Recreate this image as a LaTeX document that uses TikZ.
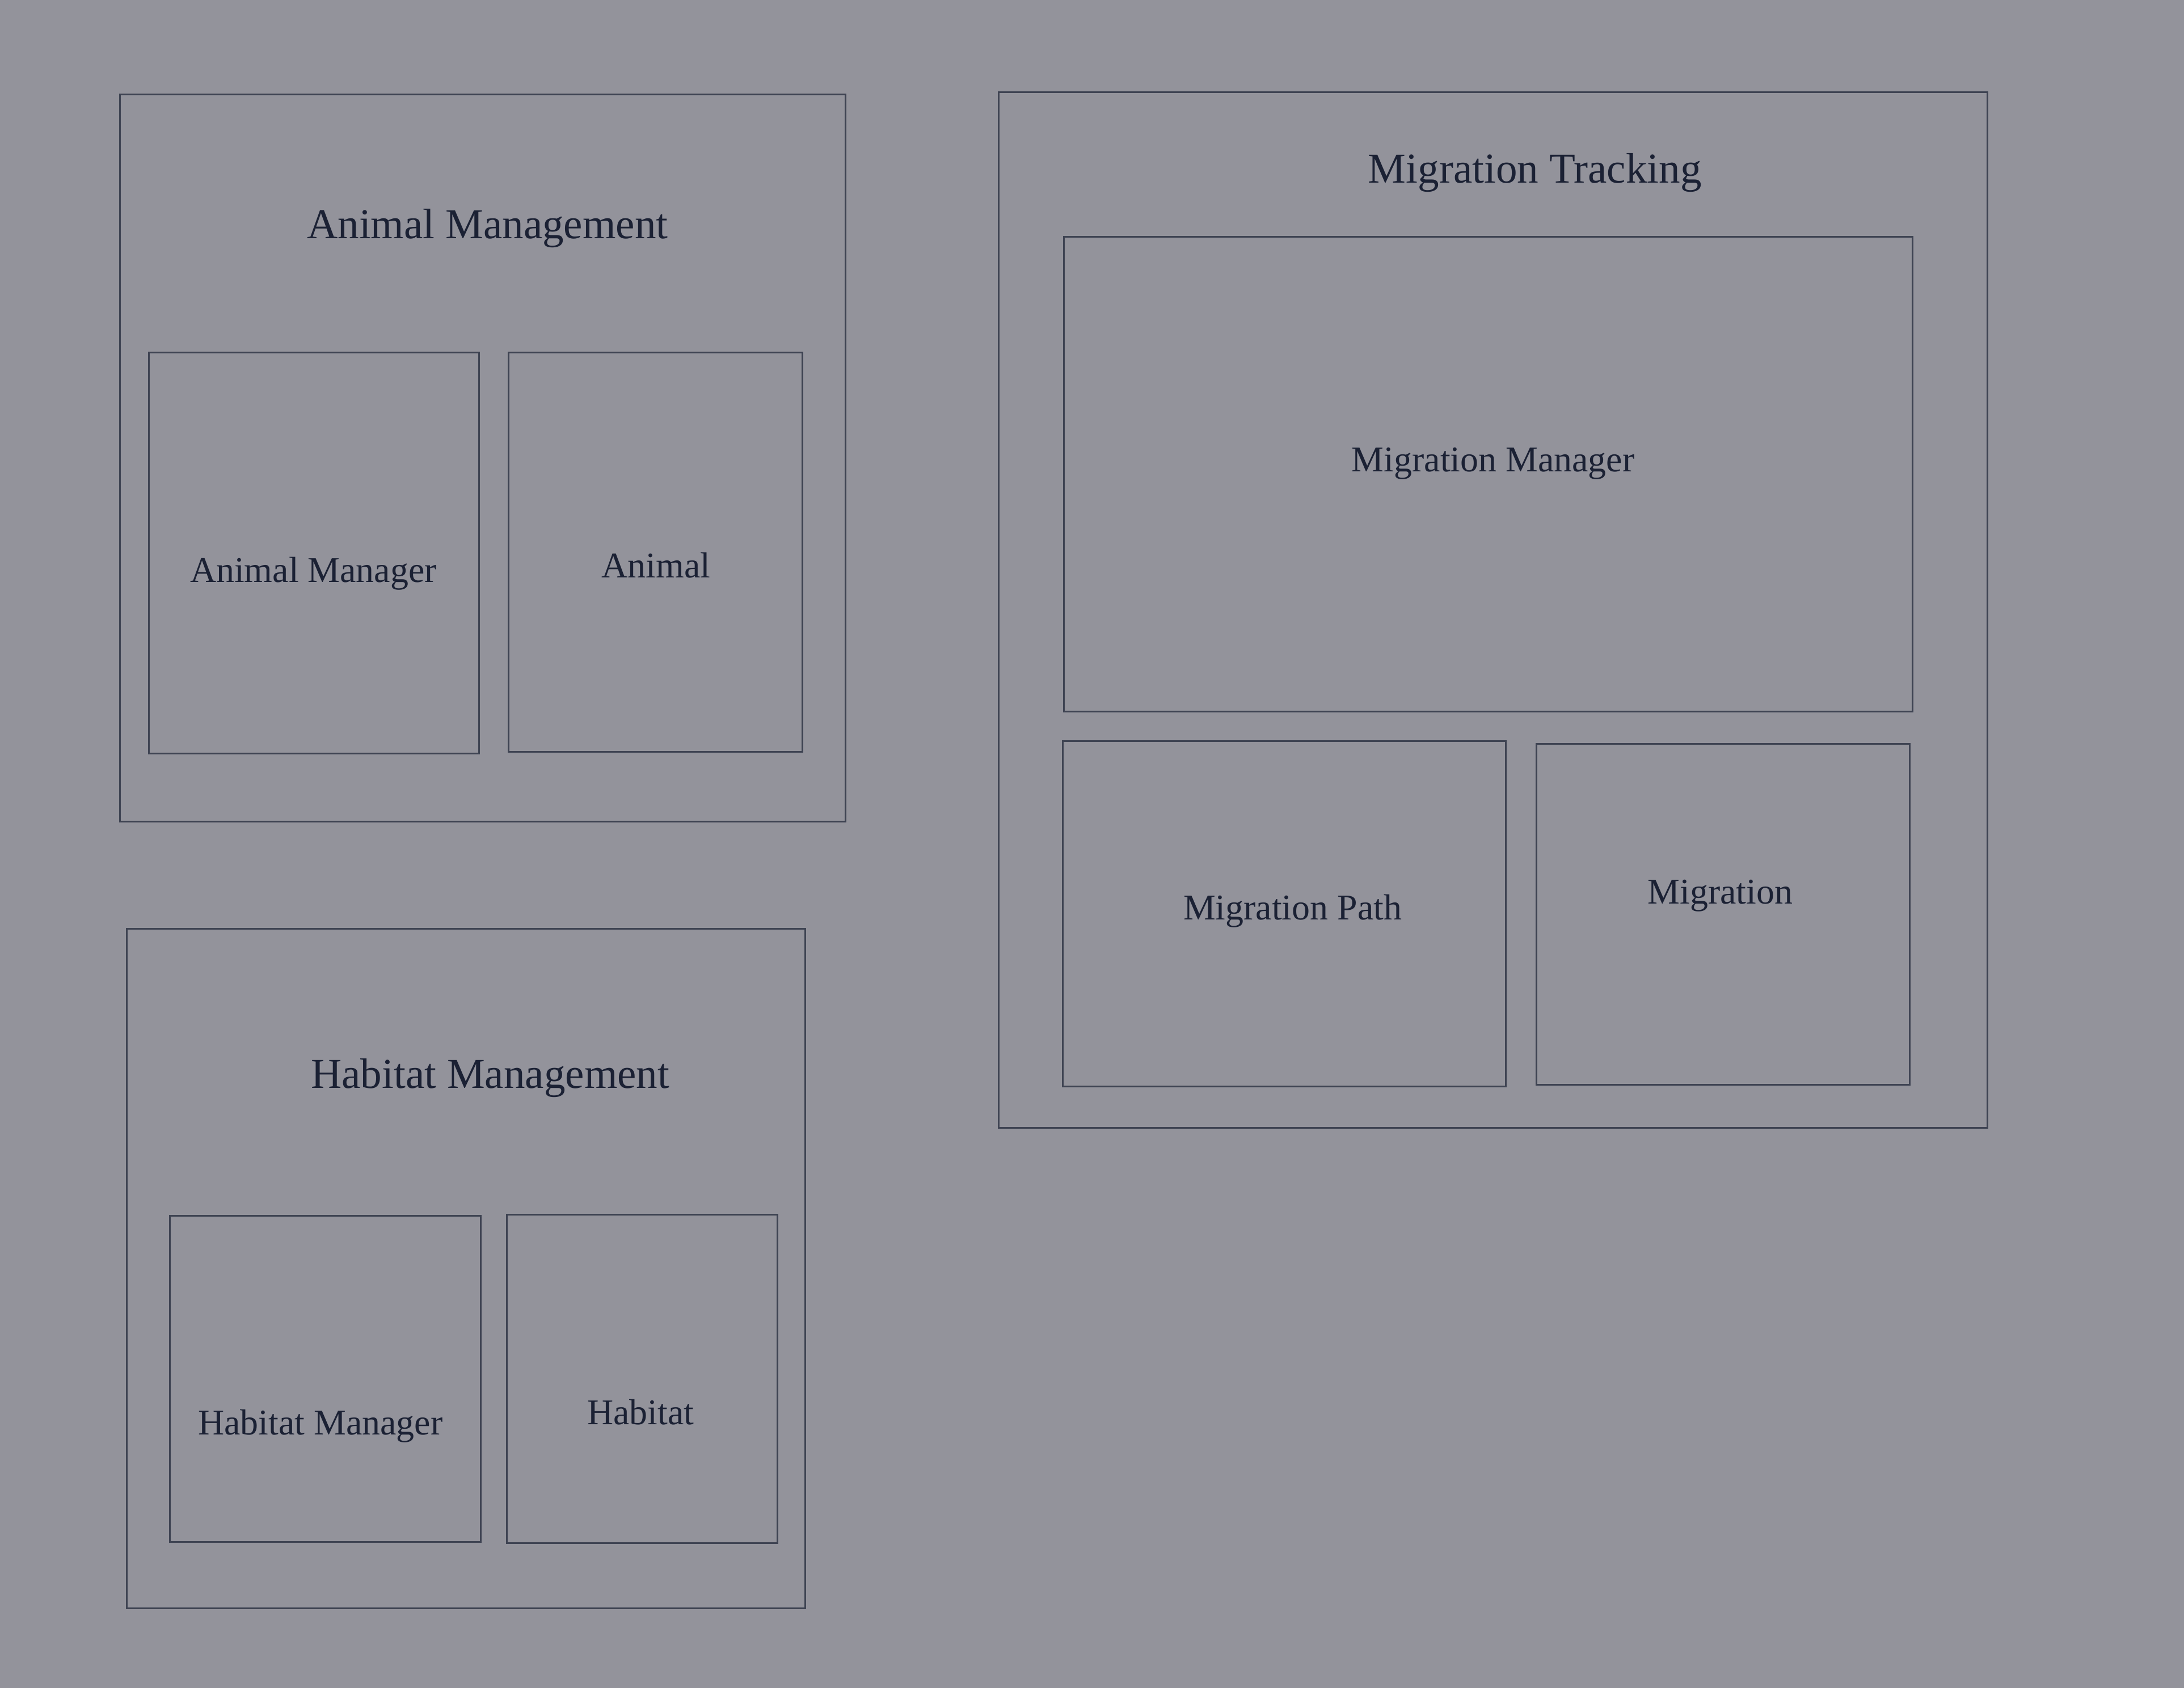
\documentclass[tikz,border=0pt]{standalone}
\usepackage{fontspec}
\setmainfont{Liberation Serif}
\usepackage{tikz}

\definecolor{bgcol}{HTML}{93939B}
\definecolor{linecol}{HTML}{3E4352}
\definecolor{textcol}{HTML}{1B2134}

\tikzset{
  frame/.style={draw=linecol, line width=0.35pt},
  title/.style={text=textcol, font=\fontsize{8.7}{10}\selectfont},
  label/.style={text=textcol, font=\fontsize{7.4}{9}\selectfont}
}

\begin{document}
\begin{tikzpicture}[x=0.01cm, y=-0.01cm]
  \fill[bgcol] (0,0) rectangle (1568,1212);
  \useasboundingbox (0,0) rectangle (1568,1212);
  % Animal Management
  \draw[frame] (86,68) rectangle (607,590);
  \node[title] (animalmgmt) at (350,164) {Animal Management};
  \draw[frame] (107,253) rectangle (344,541);
  \node[label] (animalmanager) at (225,412) {Animal Manager};
  \draw[frame] (365,253) rectangle (576,540);
  \node[label] (animal) at (471,406) {Animal};
  % Habitat Management
  \draw[frame] (91,667) rectangle (578,1155);
  \node[title] (habitatmgmt) at (352,774) {Habitat Management};
  \draw[frame] (122,873) rectangle (345,1107);
  \node[label] (habitatmanager) at (230,1024) {Habitat Manager};
  \draw[frame] (364,872) rectangle (558,1108);
  \node[label] (habitat) at (460,1014) {Habitat};
  % Migration Tracking
  \draw[frame] (717,66) rectangle (1427,810);
  \node[title] (migrationtrk) at (1102,124) {Migration Tracking};
  \draw[frame] (764,170) rectangle (1373,511);
  \node[label] (migrationmanager) at (1072,333) {Migration Manager};
  \draw[frame] (763,532) rectangle (1081,780);
  \node[label] (migrationpath) at (928,654) {Migration Path};
  \draw[frame] (1103,534) rectangle (1371,779);
  \node[label] (migration) at (1235,643) {Migration};
\end{tikzpicture}
\end{document}
